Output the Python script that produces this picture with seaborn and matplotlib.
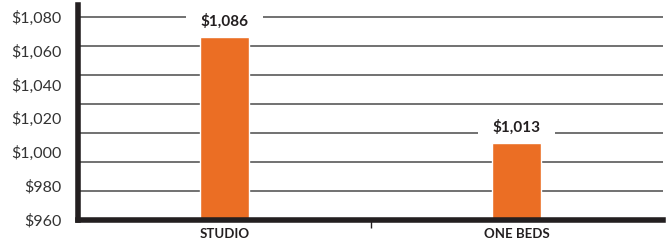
import numpy as np
import seaborn as sns
import matplotlib.pyplot as plt

categories = ['STUDIO', 'ONE BEDS']
rents = [1086, 1013]
value_labels = ['$1,086', '$1,013']
tick_labels = ['$960', '$980', '$1,000', '$1,020', '$1,040', '$1,060', '$1,080']

orange = '#EB6E24'
dark = '#231F20'

sns.set_style('white')
plt.rcParams['font.family'] = ['Lato', 'DejaVu Sans']

fig = plt.figure(figsize=(6.7, 2.48), dpi=100)
ax = fig.add_axes([78 / 670, 28 / 248, 585 / 670, 215 / 248])

sns.barplot(x=categories, y=rents, color=orange, saturation=1, width=0.168,
            ax=ax, zorder=3)

ax.set_ylim(960, 1108)
ax.set_xlim(-0.5, 1.5)

# gridlines every $20 (minor), labels spread over the same range (major)
ax.yaxis.remove_overlapping_locs = False
ax.set_yticks(np.arange(980, 1101, 20), minor=True)
ax.set_yticks(np.linspace(960, 1100, len(tick_labels)))
ax.set_yticklabels(tick_labels, fontsize=11.5, color='#333333')
ax.yaxis.grid(True, which='minor', color='#4a4a4a', lw=1.1)
ax.yaxis.grid(False, which='major')
ax.set_axisbelow(True)
ax.tick_params(axis='y', which='both', length=0, pad=12)

ax.set_xticks([0, 1])
ax.set_xticklabels(categories, fontsize=9.5, fontweight='bold', color=dark)
ax.set_xticks([0.5], minor=True)
ax.tick_params(axis='x', which='major', length=0, pad=6)
ax.tick_params(axis='x', which='minor', length=6, width=1, color=dark,
               direction='out', bottom=True)

for s in ['top', 'right']:
    ax.spines[s].set_visible(False)
for s in ['left', 'bottom']:
    ax.spines[s].set_linewidth(4)
    ax.spines[s].set_color(dark)
    ax.spines[s].set_zorder(4)

for i, (v, lab) in enumerate(zip(rents, value_labels)):
    ax.annotate(lab, (i, v), xytext=(0, 11.5), textcoords='offset points',
                ha='center', va='center', fontsize=11, fontweight='bold',
                color=dark, zorder=2,
                bbox=dict(boxstyle='square,pad=0.95', fc='white', ec='none'))

ax.set_xlabel('')
ax.set_ylabel('')
fig.savefig('out.png', dpi=100)
